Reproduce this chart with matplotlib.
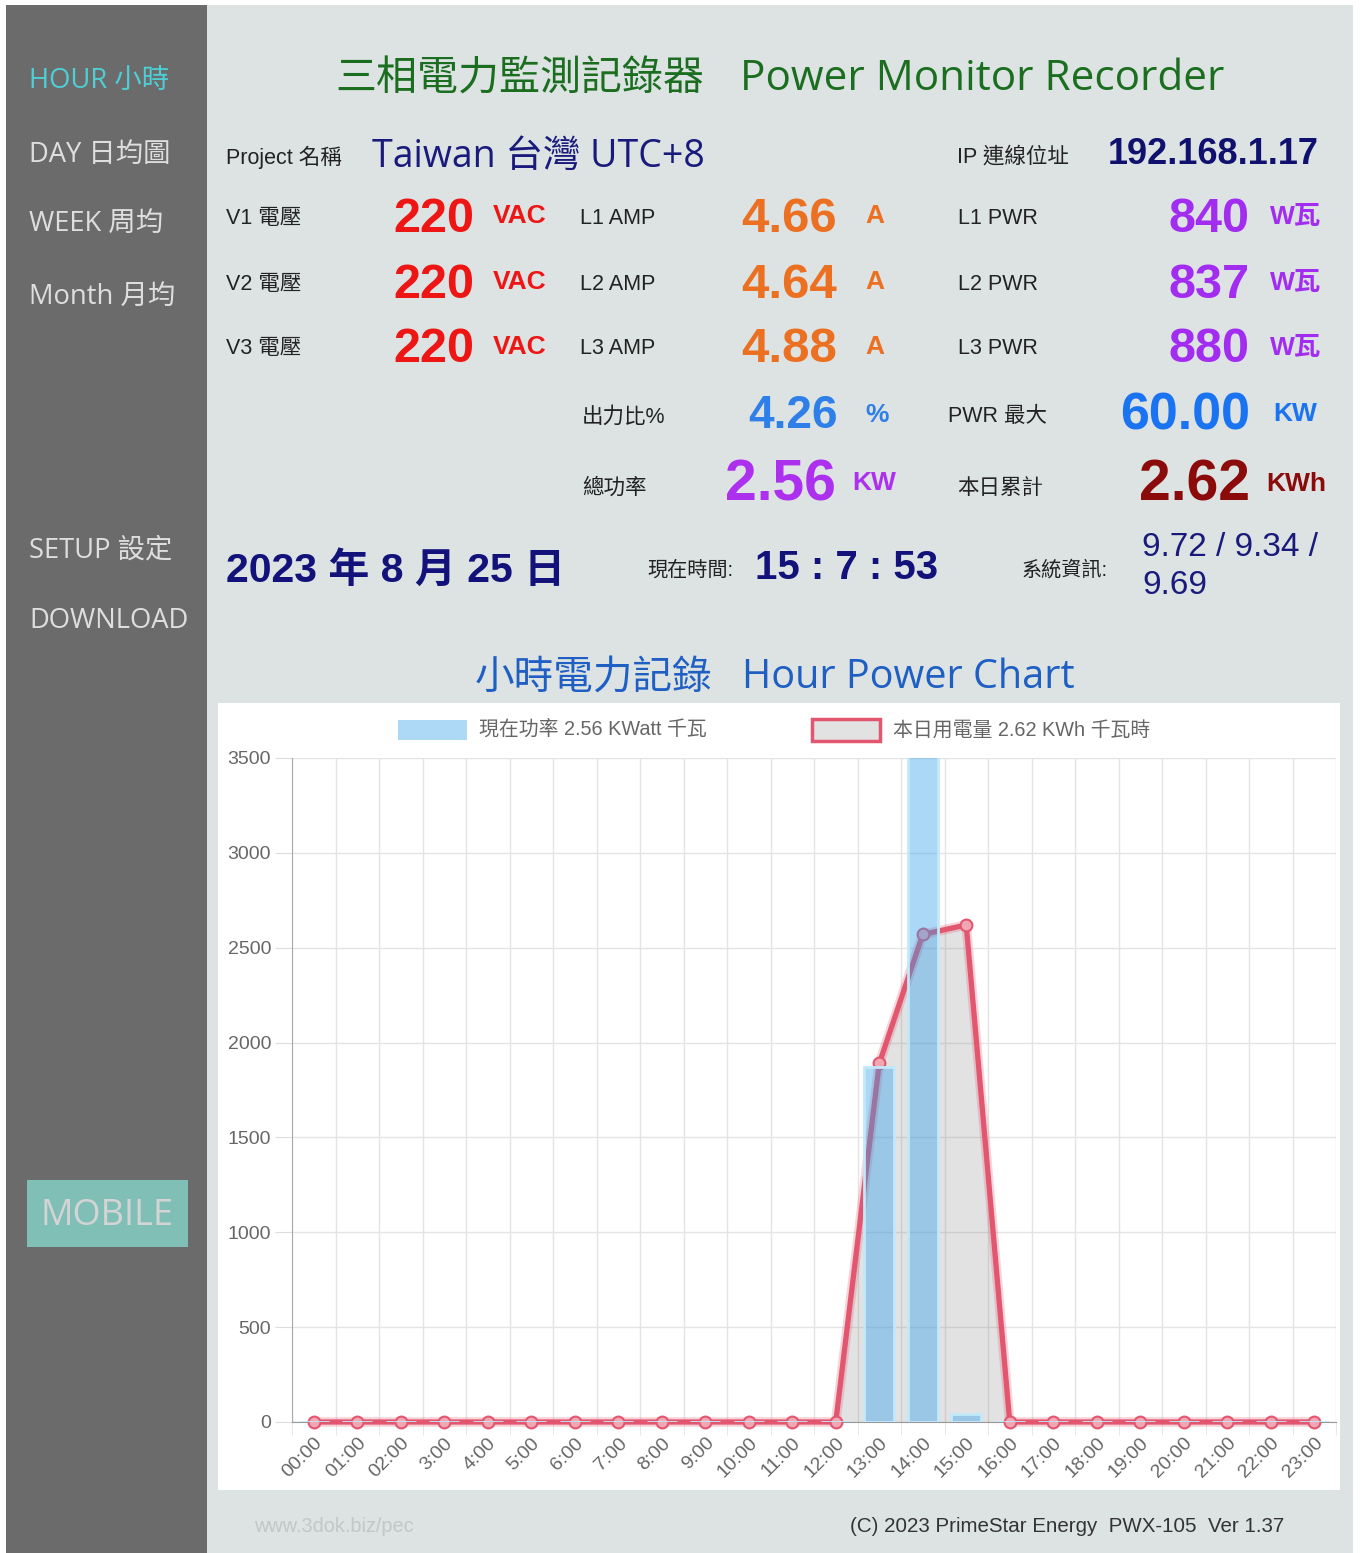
import matplotlib.pyplot as plt
import matplotlib.patches as mpatches
import numpy as np

# hourly chart data
hours = ['00:00', '01:00', '02:00', '3:00', '4:00', '5:00', '6:00', '7:00', '8:00', '9:00',
         '10:00', '11:00', '12:00', '13:00', '14:00', '15:00', '16:00', '17:00', '18:00',
         '19:00', '20:00', '21:00', '22:00', '23:00']
power_w = [0, 0, 0, 0, 0, 0, 0, 0, 0, 0, 0, 0, 0, 1870, 3700, 40, 0, 0, 0, 0, 0, 0, 0, 0]
energy_wh = [0, 0, 0, 0, 0, 0, 0, 0, 0, 0, 0, 0, 0, 1890, 2570, 2620, 0, 0, 0, 0, 0, 0, 0, 0]

# readings
volts = ['220', '220', '220']
amps = ['4.66', '4.64', '4.88']
phase_pwr = ['840', '837', '880']
out_ratio = '4.26'
pwr_max = '60.00'
total_kw = '2.56'
today_kwh = '2.62'
sys_info = ['9.72 / 9.34 /', '9.69']

menu = ['HOUR 小時', 'DAY 日均圖', 'WEEK 周均', 'Month 月均', 'SETUP 設定', 'DOWNLOAD']
menu_y = [78, 152, 222, 295, 547, 618]

W, H = 1360, 1553
ARIAL = ['Liberation Sans', 'Noto Sans CJK TC']
SEGOE = ['Open Sans', 'Noto Sans CJK TC']
CJK = ['Noto Sans CJK TC', 'DejaVu Sans']

fig = plt.figure(figsize=(W / 100, H / 100), dpi=100)
fig.patch.set_facecolor('white')


def rect(x0, y0, x1, y1, color, z=-5, **kw):
    fig.patches.append(mpatches.Rectangle((x0 / W, 1 - y1 / H), (x1 - x0) / W, (y1 - y0) / H,
                                          transform=fig.transFigure, facecolor=color,
                                          zorder=z, **kw))


def put(x, y, s, size, color, weight='normal', fam=ARIAL, ha='left', va='center'):
    fig.text(x / W, 1 - (y + 3) / H, s, fontsize=size, color=color, fontweight=weight,
             family=fam, ha=ha, va=va)


# background panels
rect(6, 5, 207, 1553, '#6b6b6b', lw=0)
rect(207, 5, 1353, 1553, '#dce3e2', lw=0)
rect(218, 703, 1340, 1490, 'white', lw=0)

# side menu
for i, (m, y) in enumerate(zip(menu, menu_y)):
    put(29, y, m, 19.7, '#4ecfd6' if i == 0 else '#dedede', fam=SEGOE)
rect(27, 1180, 188, 1247, '#80bfb5', lw=0)
put(107, 1213, 'MOBILE', 26, '#d4d4d4', fam=SEGOE, ha='center')

# title
put(335, 76, '三相電力監測記錄器', 29.5, '#1b6e1f', fam=CJK)
put(740, 76, 'Power Monitor Recorder', 30.4, '#1b6e1f', fam=SEGOE)

# project row
put(226, 154, 'Project 名稱', 15.5, '#222222')
put(372, 154, 'Taiwan 台灣 UTC+8', 27, '#1a1a7c', fam=SEGOE)
put(957, 154, 'IP 連線位址', 15.5, '#222222')
put(1108, 152, '192.168.1.17', 26, '#10106e', weight='bold')

# phase rows
row_y = [215, 281, 346]
for i, y in enumerate(row_y):
    put(226, y, f'V{i + 1} 電壓', 15.5, '#222222')
    put(474, y + 1, volts[i], 35, '#ee1515', weight='bold', ha='right')
    put(493, y - 2, 'VAC', 19, '#ee1515', weight='bold')
    put(580, y, f'L{i + 1} AMP', 15.5, '#222222')
    put(837, y + 1, amps[i], 35.5, '#ec7022', weight='bold', ha='right')
    put(865, y - 2, 'A', 19, '#ec7022', weight='bold')
    put(958, y, f'L{i + 1} PWR', 15.5, '#222222')
    put(1250, y + 1, phase_pwr[i], 35, '#a22cf0', weight='bold', ha='right')
    put(1270, y - 1, 'W瓦', 19, '#a22cf0', weight='bold')

put(582, 414, '出力比%', 15.5, '#222222')
put(838, 413, out_ratio, 33, '#2f7fe8', weight='bold', ha='right')
put(865, 412, '%', 19, '#2f7fe8', weight='bold')
put(948, 414, 'PWR 最大', 15.5, '#222222')
put(1250, 413, pwr_max, 37.5, '#1a73f0', weight='bold', ha='right')
put(1273, 411, 'KW', 19, '#1a73f0', weight='bold')

put(582, 485, '總功率', 15.5, '#222222')
put(836, 482, total_kw, 41, '#ad30ee', weight='bold', ha='right')
put(852, 480, 'KW', 19, '#ad30ee', weight='bold')
put(957, 485, '本日累計', 15.5, '#222222')
put(1250, 482, today_kwh, 41, '#8b0a0a', weight='bold', ha='right')
put(1266, 481, 'KWh', 19, '#8b0a0a', weight='bold')

# date row
put(226, 567, '2023 年 8 月 25 日', 29.5, '#12127a', weight='bold')
put(647, 567, '現在時間:', 14.5, '#222222')
put(755, 565, '15 : 7 : 53', 29, '#12127a', weight='bold')
put(1022, 567, '系統資訊:', 14.5, '#222222')
put(1142, 545, sys_info[0], 24, '#1a1a7c')
put(1142, 583, sys_info[1], 24, '#1a1a7c')

# chart title
put(475, 675, '小時電力記錄', 28.5, '#1f5fc4', fam=CJK)
put(742, 675, 'Hour Power Chart', 28.5, '#1f5fc4', fam=SEGOE)

# legend
bar_col = (54 / 255, 162 / 255, 235 / 255, 0.42)
line_col = '#e3566f'
rect(398, 720, 467, 740, (0.68, 0.85, 0.97), z=2, lw=0)
put(479, 727, '現在功率 2.56 KWatt 千瓦', 14.3, '#666666')
rect(812, 719, 880, 741, '#e2e2e2', z=2, edgecolor=line_col, lw=2.5)
put(893, 727, '本日用電量 2.62 KWh 千瓦時', 14.3, '#666666')

# chart
ax = fig.add_axes([292 / W, 1 - 1422 / H, 1044 / W, 664 / H])
ax.set_facecolor('none')
x = np.arange(len(hours))
ax.fill_between(x, energy_wh, 0, color=(0.55, 0.55, 0.55, 0.25), lw=0, zorder=1)
ax.plot(x, energy_wh, color=line_col, lw=7, alpha=0.25, zorder=2, clip_on=False,
        solid_capstyle='round')
ax.plot(x, energy_wh, color=line_col, lw=3.8, marker='o', ms=8.5, mfc='#f0a7b3', mec=line_col,
        mew=1.5, zorder=3, clip_on=False)
ax.bar(x, power_w, width=0.68, color=bar_col, edgecolor=(0.76, 0.91, 0.98), lw=2, zorder=4)

ax.set_xlim(-0.5, 23.5)
ax.set_ylim(0, 3500)
ax.set_yticks(range(0, 3501, 500))
ax.set_xticks(x, hours, rotation=45, ha='right', rotation_mode='anchor')
ax.set_xticks(np.arange(-0.5, 24, 1), minor=True)
ax.grid(axis='y', color='#e4e4e4', lw=1, zorder=0)
ax.grid(axis='x', which='minor', color='#e4e4e4', lw=1, zorder=0)
ax.set_axisbelow(True)
for lab in ax.get_xticklabels() + ax.get_yticklabels():
    lab.set_family(ARIAL)
ax.tick_params(axis='x', which='major', length=0, pad=9, labelsize=14, labelcolor='#666666')
ax.tick_params(axis='x', which='minor', length=9, color='#e4e4e4')
ax.tick_params(axis='y', length=12, color='#dddddd', labelcolor='#666666', labelsize=14, pad=3)
for s in ['top', 'right']:
    ax.spines[s].set_visible(False)
ax.spines['left'].set_color('#aaaaaa')
ax.spines['bottom'].set_color('#999999')

# footer
put(254, 1523, 'www.3dok.biz/pec', 14.3, '#c2c7c7')
put(850, 1523, '(C) 2023 PrimeStar Energy  PWX-105  Ver 1.37', 14.8, '#333333')

fig.savefig('out.png', dpi=100)
